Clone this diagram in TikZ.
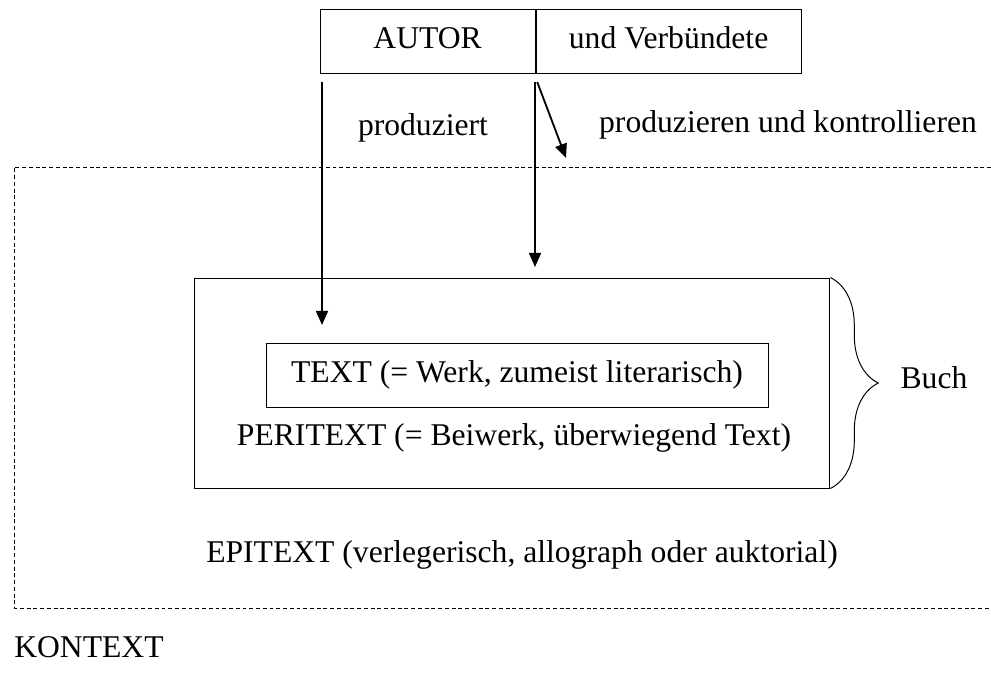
\documentclass[tikz,border=0pt]{standalone}
\usepackage{fontspec}
\setmainfont{Liberation Serif}
\usetikzlibrary{positioning,arrows.meta,decorations.pathreplacing}
\tikzstyle{boxes} = [rectangle, minimum height=1.6cm, inner sep=0pt, text centered, text height=16pt, text depth=5pt, draw=black, line width=0.7pt]
\tikzstyle{label} = [inner sep=0pt]
\tikzstyle{arrow} = [line width=1.3pt, -{Triangle[length=10pt,width=8.5pt]}]
\tikzstyle{context} = [line width=0.6pt, dash pattern=on 2.8pt off 2pt]

\begin{document}
\begin{tikzpicture}[font=\fontsize{22.5}{27}\selectfont]
        \useasboundingbox (0,0) rectangle (24.775,-16.825);

        \draw (10.69,-1.025) node[boxes, minimum width=5.375cm] (autor) {AUTOR};
        \node[boxes, minimum width=6.625cm, right=0pt of autor] (verb) {und Verb\"undete};

        \draw (10.575,-3.2) node[label] (prod) {produziert};
        \draw (19.7,-3.125) node[label] (prodkon) {produzieren und kontrollieren};

        \draw (12.81,-9.575) node[boxes, minimum width=15.875cm, minimum height=5.25cm] (buch) {};
        \draw (12.925,-9.375) node[boxes, minimum width=12.55cm, minimum height=1.6cm] (werk) {TEXT (= Werk, zumeist literarisch)};
        \draw (12.85,-10.95) node[label] (peri) {PERITEXT (= Beiwerk, \"uberwiegend Text)};
        \draw (23.35,-9.45) node[label] (buchlabel) {Buch};

        \draw (13.05,-13.875) node[label] (epi) {EPITEXT (verlegerisch, allograph oder auktorial)};
        \draw (0.35,-16.175) node[label, anchor=west] (kontext) {KONTEXT};

        % Kontext (dashed, open to the right)
        \draw[context] (24.775,-4.175) -- (0.35,-4.175) -- (0.35,-15.2) -- (24.775,-15.2);

        % Brace
        \draw[line width=0.7pt, decorate, decoration={brace, amplitude=34pt}] (buch.north east) -- (buch.south east);

        % Arrows
        \coordinate (a1) at (8.05,-2.05);
        \coordinate (b1) at (8.05,-8.125);
        \coordinate (a2) at (13.375,-2.05);
        \coordinate (b2) at (13.375,-6.675);
        \coordinate (a3) at (13.43,-2.05);
        \coordinate (b3) at (14.15,-3.95);
        \draw[arrow] (a1) -- (b1);
        \draw[arrow] (a2) -- (b2);
        \draw[arrow] (a3) -- (b3);
    \end{tikzpicture}
\end{document}
